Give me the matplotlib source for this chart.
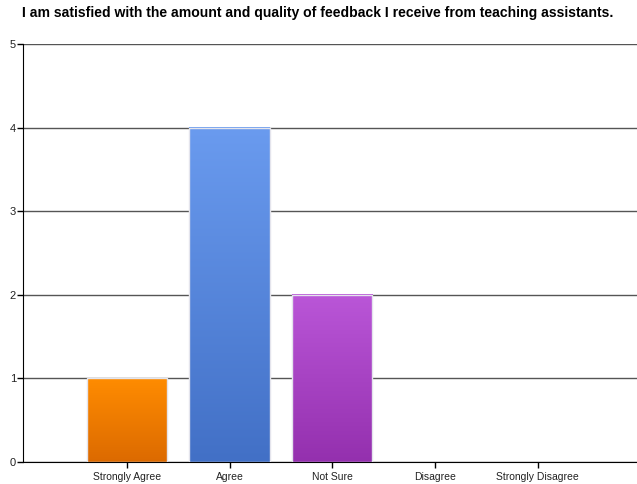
import numpy as np
import matplotlib.pyplot as plt
from matplotlib.colors import LinearSegmentedColormap

plt.rcParams['font.family'] = ['Liberation Sans', 'DejaVu Sans']

# survey responses
categories = ['Strongly Agree', 'Agree', 'Not Sure', 'Disagree', 'Strongly Disagree']
counts = [1, 4, 2, 0, 0]
# (top colour, bottom colour) for each bar
bar_colors = [('#ff8c00', '#dc6a00'),
              ('#6a9bef', '#4270c6'),
              ('#ba56d8', '#9430ae'),
              ('#cccccc', '#aaaaaa'),
              ('#cccccc', '#aaaaaa')]

fig = plt.figure(figsize=(6.37, 4.84), dpi=100)
ax = fig.add_axes([0.036, 0.0455, 0.964, 0.8635])

x = np.arange(len(categories))
w = 0.78
grad = np.linspace(1, 0, 256).reshape(-1, 1)

for xi, v, (top, bot) in zip(x, counts, bar_colors):
    if v <= 0:
        continue
    cmap = LinearSegmentedColormap.from_list('g', [bot, top])
    ax.imshow(grad, cmap=cmap, aspect='auto', origin='upper',
              extent=(xi - w / 2, xi + w / 2, 0, v), zorder=2)
    ax.bar(xi, v, width=w, facecolor='none', edgecolor='#e4e4ec', linewidth=1.0, zorder=3)

ax.set_xlim(-1.01, 4.965)
ax.set_ylim(0, 5)
ax.set_yticks(range(0, 6))
ax.yaxis.grid(True, color='#555555', linewidth=1.0, zorder=1)
ax.set_axisbelow(True)
ax.set_xticks(x)
ax.set_xticklabels(categories, fontsize=7.5, color='#222222')
ax.tick_params(axis='y', labelsize=8, length=4, width=1, pad=1, color='black', labelcolor='#222222')
ax.tick_params(axis='x', length=4, width=1, pad=3, color='black')

for s in ['top', 'right']:
    ax.spines[s].set_visible(False)
ax.spines['left'].set_color('black')
ax.spines['bottom'].set_color('black')

fig.text(0.498, 0.974, 'I am satisfied with the amount and quality of feedback I receive from teaching assistants.',
         ha='center', va='center', fontsize=10.1, fontweight='bold')

fig.savefig('out.png', dpi=100)
